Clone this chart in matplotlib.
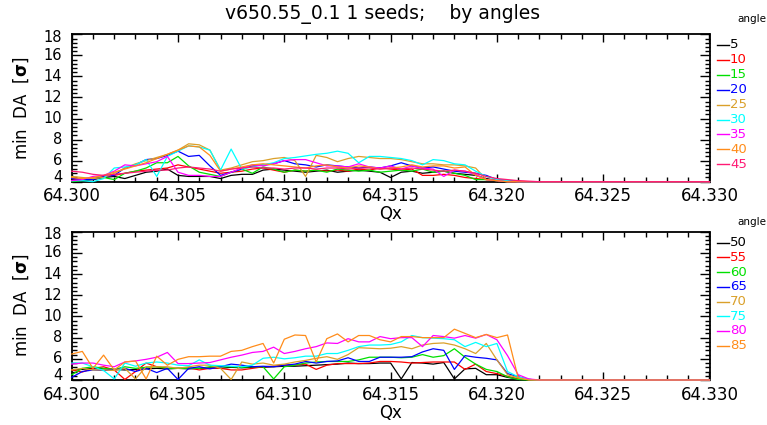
import matplotlib
matplotlib.use("Agg")
import matplotlib.pyplot as plt
from matplotlib.lines import Line2D
from matplotlib.ticker import MultipleLocator, FixedLocator, NullFormatter
from matplotlib.transforms import offset_copy
import numpy as np

# ---------------- data ----------------
qx = [64.3000, 64.3005, 64.3010, 64.3015, 64.3020, 64.3025, 64.3030, 64.3035, 64.3040, 64.3045,
      64.3050, 64.3055, 64.3060, 64.3065, 64.3070, 64.3075, 64.3080, 64.3085, 64.3090, 64.3095,
      64.3100, 64.3105, 64.3110, 64.3115, 64.3120, 64.3125, 64.3130, 64.3135, 64.3140, 64.3145,
      64.3150, 64.3155, 64.3160, 64.3165, 64.3170, 64.3175, 64.3180, 64.3185, 64.3190, 64.3195,
      64.3200, 64.3205, 64.3210, 64.3215, 64.3220, 64.3225, 64.3230, 64.3235, 64.3240, 64.3245,
      64.3250, 64.3255, 64.3260, 64.3265, 64.3270, 64.3275, 64.3280, 64.3285, 64.3290, 64.3295,
      64.3300]

tail = [4.0, 4.0, 4.0, 4.0, 4.0, 4.0, 4.0, 4.0, 4.0, 4.0, 4.0, 4.0, 4.0, 4.0, 4.0, 4.0]

top_angles = ["5", "10", "15", "20", "25", "30", "35", "40", "45"]
bot_angles = ["50", "55", "60", "65", "70", "75", "80", "85"]

a5 = [4.2, 4.1, 4.2, 4.4, 4.5, 4.3, 4.6, 4.9, 5.0, 5.2,
      4.6, 4.5, 4.5, 4.5, 4.3, 4.6, 4.7, 4.7, 5.1, 5.2,
      5.1, 5.0, 4.9, 5.0, 5.1, 4.9, 5.0, 5.1, 5.0, 4.9,
      4.4, 4.9, 5.0, 4.8, 4.9, 5.0, 4.8, 4.7, 4.6, 4.3,
      4.1, 4.05, 4.0, 4.0, 4.0] + tail
a10 = [4.3, 4.2, 4.3, 4.5, 4.6, 4.8, 5.0, 5.1, 5.2, 5.3,
       5.6, 5.4, 5.2, 5.0, 4.8, 4.9, 5.0, 5.2, 5.3, 5.1,
       4.9, 5.1, 5.0, 5.1, 5.0, 5.1, 5.0, 5.2, 5.1, 5.3,
       5.2, 5.1, 5.2, 4.6, 4.6, 4.7, 4.6, 4.4, 4.3, 4.2,
       4.2, 4.1, 4.05, 4.0, 4.0] + tail
a15 = [4.0, 4.1, 4.3, 4.4, 4.2, 4.8, 5.0, 5.3, 5.8, 5.8,
       6.4, 5.5, 4.9, 4.7, 4.5, 4.9, 5.2, 4.8, 5.4, 5.2,
       4.9, 5.1, 5.0, 5.1, 4.9, 5.2, 5.1, 5.0, 5.1, 4.9,
       5.0, 5.1, 5.0, 5.2, 4.9, 5.0, 4.8, 4.6, 4.2, 4.2,
       4.1, 4.0, 4.0, 4.0, 4.0] + tail
a20 = [4.3, 4.2, 4.2, 4.5, 4.6, 5.3, 5.6, 6.1, 6.2, 6.5,
       6.9, 6.4, 6.5, 5.5, 4.6, 4.9, 5.2, 5.5, 5.6, 5.7,
       6.0, 5.7, 5.6, 5.4, 5.6, 5.5, 5.4, 5.3, 5.4, 5.3,
       5.5, 5.8, 5.5, 5.3, 5.4, 5.2, 5.0, 4.9, 4.8, 4.6,
       4.2, 4.1, 4.0, 4.0, 4.0] + tail
a25 = [4.5, 4.4, 4.3, 4.4, 4.8, 5.3, 5.7, 6.0, 6.3, 6.6,
       7.0, 7.6, 7.5, 7.0, 5.1, 5.3, 5.6, 5.9, 6.0, 6.2,
       6.3, 6.0, 4.5, 6.5, 6.3, 5.9, 6.2, 6.4, 6.3, 6.2,
       6.2, 6.1, 5.9, 5.7, 5.7, 5.6, 5.6, 5.5, 5.3, 4.2,
       4.1, 4.0, 4.0, 4.0, 4.0] + tail
a30 = [4.1, 4.1, 4.0, 4.3, 5.3, 5.4, 5.6, 6.1, 4.5, 6.4,
       6.9, 7.4, 7.3, 7.0, 5.1, 7.1, 5.2, 5.4, 5.6, 5.8,
       6.2, 6.3, 6.45, 6.6, 6.7, 6.9, 6.7, 5.8, 6.4, 6.4,
       6.3, 6.2, 6.0, 5.6, 6.1, 6.0, 5.7, 5.6, 5.0, 4.5,
       4.2, 4.1, 4.0, 4.0, 4.0] + tail
a35 = [4.1, 4.2, 4.5, 4.6, 5.0, 5.6, 5.5, 5.7, 5.9, 6.4,
       4.9, 4.6, 4.6, 4.5, 4.5, 4.9, 5.3, 5.6, 5.5, 5.7,
       6.0, 6.1, 6.1, 5.8, 5.5, 5.5, 5.4, 5.7, 5.4, 5.3,
       5.5, 5.2, 5.5, 5.3, 5.2, 4.5, 5.1, 5.0, 4.7, 4.2,
       4.1, 4.0, 4.0, 4.0, 4.0] + tail
a40 = [4.4, 4.3, 4.4, 4.6, 4.9, 5.2, 5.5, 5.8, 6.2, 6.6,
       7.0, 7.4, 7.3, 6.5, 5.0, 5.2, 5.4, 5.6, 5.7, 5.6,
       5.5, 5.4, 5.3, 5.5, 5.6, 5.4, 5.3, 5.5, 5.4, 5.2,
       5.3, 5.4, 5.6, 5.4, 5.5, 5.5, 5.3, 5.4, 4.6, 4.2,
       4.1, 4.0, 4.0, 4.0, 4.0] + tail
a45 = [5.0, 4.9, 4.7, 4.6, 4.7, 4.8, 4.9, 5.0, 5.1, 5.1,
       5.3, 5.4, 5.3, 5.2, 5.0, 5.2, 5.3, 5.4, 5.3, 5.3,
       5.2, 5.3, 5.3, 5.2, 5.3, 5.3, 5.2, 5.3, 5.3, 5.2,
       5.3, 5.2, 5.3, 5.2, 5.1, 5.0, 5.1, 5.0, 4.8, 4.5,
       4.3, 4.2, 4.1, 4.05, 4.0] + tail

b50 = [4.95, 5.0, 5.1, 5.05, 5.0, 4.95, 5.0, 5.05, 5.1, 5.05,
       5.1, 5.05, 5.1, 5.15, 5.1, 5.2, 5.15, 5.2, 5.2, 5.25,
       5.3, 5.3, 5.35, 5.4, 5.45, 5.5, 5.6, 5.55, 5.55, 5.6,
       5.6, 4.1, 5.65, 5.6, 5.5, 5.65, 4.1, 5.05, 5.1, 4.5,
       4.5, 4.25, 4.1, 4.0, 4.0] + tail
b55 = [4.95, 4.75, 5.1, 5.25, 4.95, 4.05, 4.8, 5.6, 5.25, 5.1,
       5.1, 5.15, 4.95, 5.1, 5.1, 4.95, 4.95, 5.1, 5.25, 5.3,
       5.4, 5.4, 5.5, 5.0, 5.4, 5.55, 5.55, 5.55, 5.6, 5.75,
       5.75, 5.7, 5.6, 5.65, 5.7, 5.7, 5.7, 5.0, 5.5, 4.8,
       4.6, 4.35, 4.1, 4.05, 4.0] + tail
b60 = [4.5, 5.1, 5.25, 5.1, 5.0, 5.25, 5.1, 5.2, 5.25, 5.1,
       5.1, 5.1, 5.1, 5.25, 5.25, 5.25, 5.2, 5.25, 5.25, 4.1,
       5.25, 5.4, 5.6, 5.7, 5.75, 5.75, 5.75, 5.9, 6.15, 6.15,
       6.15, 6.1, 6.15, 6.4, 6.15, 6.3, 6.95, 6.15, 5.5, 5.0,
       4.8, 4.3, 4.05, 4.0, 4.0] + tail
b65 = [4.25, 4.8, 4.95, 4.9, 4.95, 5.1, 4.8, 5.1, 4.7, 5.1,
       4.05, 5.1, 5.25, 5.05, 5.25, 5.5, 5.4, 5.25, 5.3, 5.25,
       5.4, 5.5, 5.75, 5.6, 5.75, 5.8, 6.1, 5.75, 5.75, 6.15,
       6.15, 6.15, 6.2, 6.65, 6.95, 6.8, 5.0, 6.3, 6.15, 6.05,
       5.9, 4.6, 4.3, 4.05, 4.0] + tail
b70 = [4.95, 5.1, 4.95, 4.95, 4.9, 5.1, 4.1, 5.25, 5.25, 5.25,
       5.1, 5.25, 5.4, 5.4, 5.1, 4.05, 5.7, 5.5, 5.6, 5.4,
       5.5, 5.7, 5.85, 6.05, 6.2, 5.95, 6.4, 7.05, 7.0, 6.95,
       7.0, 7.15, 6.95, 7.3, 7.45, 7.5, 7.3, 6.95, 6.5, 7.45,
       5.9, 4.5, 4.2, 4.05, 4.0] + tail
b75 = [5.6, 5.6, 5.25, 4.9, 4.1, 5.6, 5.3, 5.6, 5.7, 5.6,
       5.4, 5.35, 5.9, 5.4, 5.35, 5.3, 5.25, 5.4, 6.05, 6.15,
       6.0, 6.1, 6.25, 6.25, 6.5, 6.5, 6.8, 7.15, 7.3, 7.3,
       7.35, 7.6, 8.2, 8.0, 7.95, 7.9, 7.8, 7.15, 7.55, 7.15,
       7.45, 4.8, 4.3, 4.05, 4.0] + tail
b80 = [5.5, 5.6, 5.6, 5.4, 5.25, 5.7, 5.8, 5.95, 6.15, 6.6,
       5.55, 5.55, 5.6, 5.65, 5.9, 6.15, 6.35, 6.6, 6.7, 7.1,
       6.5, 6.7, 6.95, 7.15, 7.5, 7.45, 7.9, 7.6, 7.6, 8.1,
       7.9, 8.0, 8.0, 7.15, 8.2, 8.1, 7.95, 8.2, 7.95, 8.3,
       7.8, 6.3, 4.5, 4.1, 4.0] + tail
b85 = [6.45, 6.7, 5.1, 6.35, 4.95, 5.7, 5.8, 4.1, 6.25, 5.4,
       5.95, 6.2, 6.2, 6.25, 6.25, 6.7, 6.8, 7.15, 7.45, 5.6,
       7.85, 8.25, 8.2, 5.7, 7.9, 8.35, 7.6, 8.2, 8.2, 7.8,
       7.6, 8.1, 8.1, 8.0, 8.0, 8.0, 8.8, 8.4, 8.0, 8.3,
       8.0, 8.25, 4.2, 4.0, 4.0] + tail

top_series = [a5, a10, a15, a20, a25, a30, a35, a40, a45]
bot_series = [b50, b55, b60, b65, b70, b75, b80, b85]

top_colors = ["#000000", "#FF0000", "#00E000", "#0000FF", "#DAA02A",
              "#00FFFF", "#FF00FF", "#FF8C1A", "#FF1A75"]
bot_colors = ["#000000", "#FF0000", "#00E000", "#0000FF", "#DAA02A",
              "#00FFFF", "#FF00FF", "#FF8C1A"]

xticks = [64.300, 64.305, 64.310, 64.315, 64.320, 64.325, 64.330]
xticklabels = ["64.300", "64.305", "64.310", "64.315", "64.320", "64.325", "64.330"]
yticks = [4, 6, 8, 10, 12, 14, 16, 18]
yticklabels = ["4", "6", "8", "10", "12", "14", "16", "18"]

# ---------------- figure ----------------
W, H = 767, 425
fig = plt.figure(figsize=(W / 100, H / 100), dpi=100)
plt.rcParams['font.family'] = ['DejaVu Sans']


def fx(px):
    return px / W


def fy(py):
    return 1 - py / H


ax_l, ax_r = 71.7, 709.5
axes_specs = [(34.3, 181.7), (231.7, 380.0)]
axes = []
for (t, b) in axes_specs:
    ax = fig.add_axes([fx(ax_l), fy(b), fx(ax_r) - fx(ax_l), (b - t) / H])
    axes.append(ax)


def style(ax):
    ax.set_xlim(64.300, 64.330)
    ax.set_ylim(4, 18)
    ax.xaxis.set_major_locator(FixedLocator(xticks))
    ax.set_xticklabels(xticklabels)
    ax.xaxis.set_minor_locator(MultipleLocator(0.001))
    ax.yaxis.set_major_locator(FixedLocator(yticks))
    ax.yaxis.set_major_formatter(NullFormatter())
    ax.yaxis.set_minor_locator(MultipleLocator(0.4))
    ax.tick_params(axis='both', which='both', direction='in', top=True, right=True,
                   width=1.0, color='black')
    ax.tick_params(axis='x', which='major', length=5.5, labelsize=12, pad=4)
    ax.tick_params(axis='x', which='minor', length=3.3)
    ax.tick_params(axis='y', which='major', length=7.5)
    ax.tick_params(axis='y', which='minor', length=3.8)
    for s in ax.spines.values():
        s.set_linewidth(1.3)
    ax.set_xlabel("Qx", fontsize=12, labelpad=0)
    ax.set_ylabel("min  DA  [$\\mathbf{\\sigma}$]", fontsize=12, labelpad=26)
    # y tick labels placed on the y scale, the end ones nudged inside the axis span
    for v, lab in zip(yticks, yticklabels):
        if v == yticks[0]:
            dy = 4.5
        elif v == yticks[-1]:
            dy = -3.0
        else:
            dy = 0.0
        tr = offset_copy(ax.get_yaxis_transform(), fig=fig, x=-9.5, y=dy, units='dots')
        ax.text(0, v, lab, transform=tr, ha='right', va='center', fontsize=10.5,
                clip_on=False)


for ax, series, colors in [(axes[0], top_series, top_colors), (axes[1], bot_series, bot_colors)]:
    for ys, c in zip(series, colors):
        ax.plot(qx, ys, color=c, lw=0.9, zorder=3, clip_on=False)
    style(ax)

fig.text(fx(383), fy(14), "v650.55_0.1 1 seeds;    by angles", ha='center', va='center',
         fontsize=13.5)

# custom legends
def legend(labels, colors, y_title, y0, dy):
    fig.text(fx(752), fy(y_title), "angle", ha='center', va='center', fontsize=7.5)
    for k, (lab, c) in enumerate(zip(labels, colors)):
        yy = fy(y0 + k * dy)
        fig.add_artist(Line2D([fx(717), fx(729)], [yy, yy], transform=fig.transFigure,
                              color=c, lw=1.0))
        fig.text(fx(730), yy, lab, ha='left', va='center', fontsize=9.5, color=c)


legend(top_angles, top_colors, 19, 45, 14.9)
legend(bot_angles, bot_colors, 222, 242.7, 14.7)

fig.savefig("out.png", dpi=100)
